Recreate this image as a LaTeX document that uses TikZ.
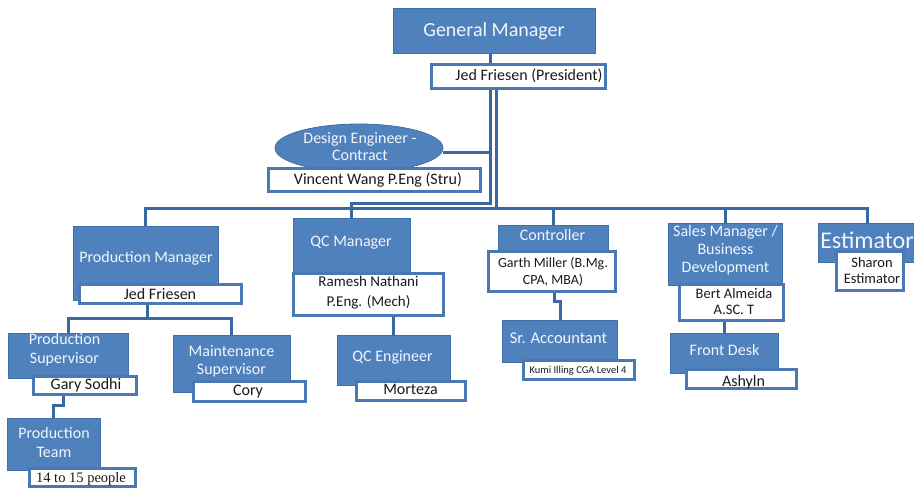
\documentclass[tikz,border=0pt]{standalone}
\usepackage{fontspec}
\setmainfont{Carlito}
\newfontfamily\serifface{Liberation Serif}
\usetikzlibrary{shapes.geometric}
\definecolor{rolefill}{HTML}{4F81BD}
\definecolor{roleedge}{HTML}{3F6FA8}
\definecolor{nameedge}{HTML}{4A78B2}
\definecolor{linecol}{HTML}{3A68A2}
\definecolor{roletxt}{HTML}{F2F5FB}
\definecolor{nametxt}{HTML}{1A1A1A}
\pgfdeclarelayer{bg}
\pgfdeclarelayer{lines}
\pgfsetlayers{bg,lines,main}
\tikzset{
  role/.style={draw=roleedge, line width=0.8pt, fill=rolefill, inner sep=0pt},
  roleoval/.style={ellipse, draw=roleedge, line width=0.8pt, fill=rolefill, inner sep=0pt},
  rtext/.style={text=roletxt, font=\fontsize{16}{19}\selectfont, align=center, inner sep=0pt},
  namebox/.style={draw=nameedge, line width=3pt, fill=white, inner sep=0pt},
  ntext/.style={text=nametxt, font=\fontsize{16}{19}\selectfont, align=center, inner sep=0pt},
  link/.style={draw=linecol, line width=3pt},
}
\begin{document}
\begin{tikzpicture}[x=1pt, y=-1pt]
\useasboundingbox (0,0) rectangle (914,491);
\begin{pgfonlayer}{bg}
  \fill[white] (0,0) rectangle (914,491);
\end{pgfonlayer}

% ---- top ----
\node[role, minimum width=202pt, minimum height=45pt] (gm) at (494,30.5) {};
\node[rtext, font=\fontsize{20}{24}\selectfont] (gm-t) at (494,31) {General Manager};
\node[namebox, minimum width=174pt, minimum height=24pt] (gmn) at (518.5,76.5) {};
\node[ntext] (gmn-t) at (529,76) {Jed Friesen (President)};

\node[roleoval, minimum width=168pt, minimum height=48pt] (de) at (359,148) {};
\node[rtext, font=\fontsize{16}{17}\selectfont] (de-t) at (360,146.5) {Design Engineer -\\Contract};
\node[namebox, minimum width=212pt, minimum height=23pt] (den) at (374.5,180) {};
\node[ntext] (den-t) at (378,180) {Vincent Wang P.Eng (Stru)};

% ---- managers ----
\node[role, minimum width=145pt, minimum height=74pt] (pm) at (145.5,263) {};
\node[rtext] (pm-t) at (146,258) {Production Manager};
\node[namebox, minimum width=162pt, minimum height=19pt] (pmn) at (160.5,294) {};
\node[ntext] (pmn-t) at (160,294) {Jed Friesen};

\node[role, minimum width=117pt, minimum height=59pt] (qm) at (351.5,247.5) {};
\node[rtext] (qm-t) at (351,243) {QC Manager};
\node[namebox, minimum width=150pt, minimum height=42pt] (qmn) at (368.5,294.5) {};
\node[ntext, font=\fontsize{15}{20}\selectfont] (qmn-t) at (368.5,293) {Ramesh Nathani\\P.Eng. (Mech)};

\node[role, minimum width=110pt, minimum height=30pt] (ct) at (553,240) {};
\node[rtext] (ct-t) at (552.5,235) {Controller};
\node[namebox, minimum width=127pt, minimum height=40pt] (ctn) at (552,271.5) {};
\node[ntext, font=\fontsize{14}{17}\selectfont] (ctn-t) at (553,271.5) {Garth Miller (B.Mg.\\CPA, MBA)};

\node[role, minimum width=114pt, minimum height=62pt] (sm) at (725,254) {};
\node[rtext, font=\fontsize{16}{18}\selectfont] (sm-t) at (725.5,250) {Sales Manager /\\Business\\Development};
\node[namebox, minimum width=104pt, minimum height=36pt] (smn) at (731.5,302.5) {};
\node[ntext, font=\fontsize{14.5}{16}\selectfont] (smn-t) at (734,302) {Bert Almeida\\A.SC. T};

\node[role, minimum width=98pt, minimum height=39pt] (es) at (867,242.5) {};
\node[rtext, font=\fontsize{24}{28}\selectfont] (es-t) at (867,240) {Estimator};
\node[namebox, minimum width=67pt, minimum height=39pt] (esn) at (870,271) {};
\node[ntext, font=\fontsize{14.5}{16}\selectfont] (esn-t) at (872,271) {Sharon\\Estimator};

% ---- third level ----
\node[role, minimum width=120pt, minimum height=45pt] (ps) at (68,355.5) {};
\node[rtext] (ps-t) at (64.5,350) {Production\\Supervisor};
\node[namebox, minimum width=103pt, minimum height=18pt] (psn) at (85,385.5) {};
\node[ntext] (psn-t) at (86,385) {Gary Sodhi};

\node[role, minimum width=117pt, minimum height=57pt] (mt) at (231.5,363.5) {};
\node[rtext, font=\fontsize{16}{18}\selectfont] (mt-t) at (231.5,361) {Maintenance\\Supervisor};
\node[namebox, minimum width=112pt, minimum height=20pt] (mtn) at (249.5,391.5) {};
\node[ntext] (mtn-t) at (248,392) {Cory};

\node[role, minimum width=113pt, minimum height=50pt] (qe) at (393.5,360) {};
\node[rtext] (qe-t) at (392.5,357) {QC Engineer};
\node[namebox, minimum width=109pt, minimum height=19pt] (qen) at (411,391) {};
\node[ntext] (qen-t) at (410.5,389) {Morteza};

\node[role, minimum width=115pt, minimum height=42pt] (sa) at (559.5,341) {};
\node[rtext, font=\fontsize{16.5}{19}\selectfont] (sa-t) at (558.5,338) {Sr. Accountant};
\node[namebox, minimum width=111pt, minimum height=19pt] (san) at (579,370) {};
\node[ntext, font=\fontsize{10.5}{12}\selectfont] (san-t) at (578,371) {Kumi Illing CGA Level 4};

\node[role, minimum width=108pt, minimum height=40pt] (fd) at (724,353) {};
\node[rtext] (fd-t) at (724.5,350) {Front Desk};
\node[namebox, minimum width=110pt, minimum height=19pt] (fdn) at (741.5,379) {};
\node[ntext] (fdn-t) at (743.5,382) {Ashyln};

\node[role, minimum width=93pt, minimum height=52pt] (pt) at (53.5,444) {};
\node[rtext] (pt-t) at (54,442.5) {Production\\Team};
\node[namebox, minimum width=106pt, minimum height=18pt] (ptn) at (82.5,477.5) {};
\node[ntext, font=\serifface\fontsize{14.5}{17}\selectfont] (ptn-t) at (81,479) {14 to 15 people};

% ---- junction points ----
\coordinate (tj) at (490,203);
\coordinate (bj) at (496,208);
\coordinate (pj) at (147,318);
\coordinate (pa) at (63,405);
\coordinate (qa) at (393,326);
\coordinate (ca) at (554,301);
\coordinate (cb) at (560,301);

% ---- connectors ----
\begin{pgfonlayer}{lines}
  \draw[link] (gm.south -| tj) -- (tj) -| (qm.north);
  \draw[link] (gmn.south -| bj) -- (bj);
  \draw[link] ([yshift=-4pt]de.east) -- ([yshift=-4pt]de.east -| tj);
  \draw[link] (pm.north) |- (es.north |- bj) -- (es.north);
  \draw[link] (ct.north) -- (ct.north |- bj);
  \draw[link] (sm.north) -- (sm.north |- bj);
  \draw[link] (pmn.south -| pj) -- (pj);
  \draw[link] (ps.north) |- (pj) -| (mt.north);
  \draw[link] (psn.south -| pa) -- (pa) -| (pt.north);
  \draw[link] (qmn.south -| qa) -- (qe.north -| qa);
  \draw[link] (ctn.south -| ca) -- (ca) -- (cb) -- (sa.north -| cb);
  \draw[link] (smn.south -| fd.north) -- (fd.north);
\end{pgfonlayer}
\end{tikzpicture}
\end{document}
